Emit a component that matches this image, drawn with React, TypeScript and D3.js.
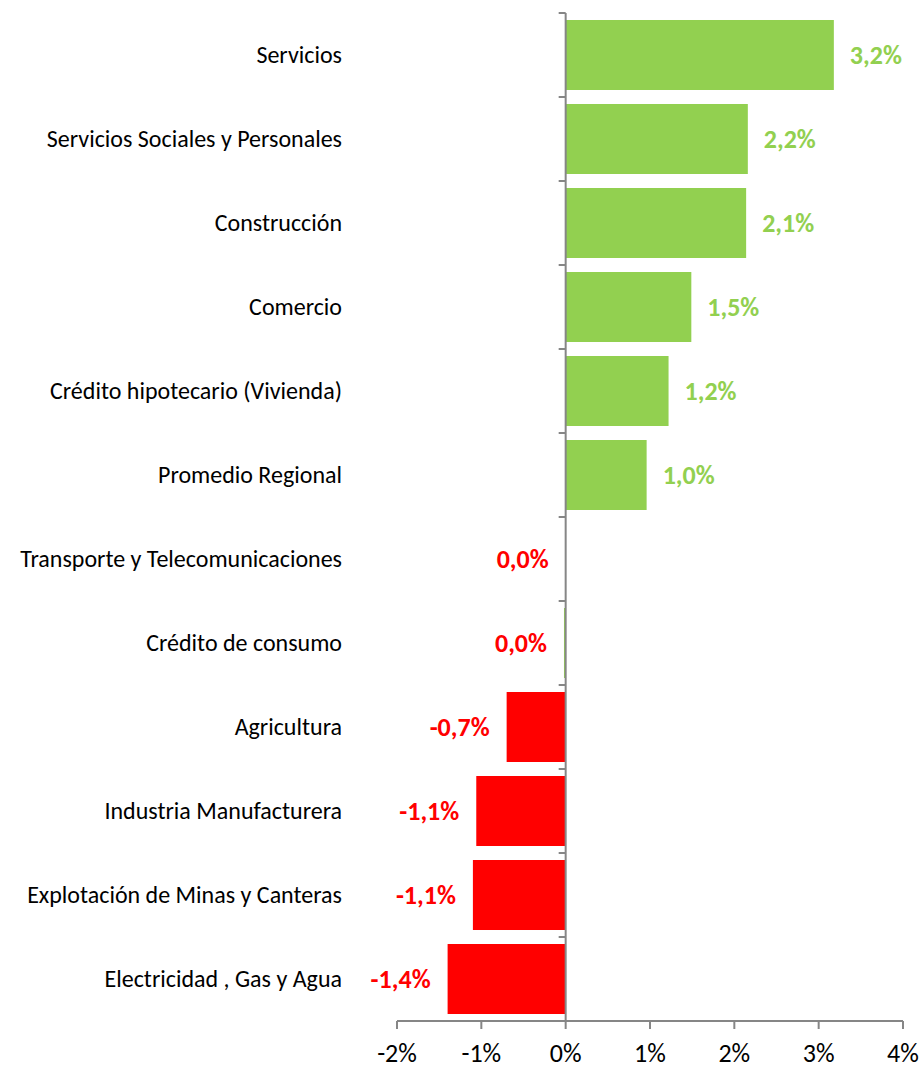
import React from "react";
import * as d3 from "d3";

const categories = [
  "Servicios ",
  "Servicios Sociales y Personales",
  "Construcción",
  "Comercio",
  "Crédito hipotecario (Vivienda)",
  "Promedio Regional",
  "Transporte y Telecomunicaciones",
  "Crédito de consumo",
  "Agricultura",
  "Industria Manufacturera",
  "Explotación de Minas y Canteras",
  "Electricidad , Gas y Agua",
];

const values = [3.18, 2.16, 2.14, 1.49, 1.22, 0.96, 0.0, -0.02, -0.7, -1.06, -1.1, -1.4];

const xTicks = [-2, -1, 0, 1, 2, 3, 4];

const W = 921;
const H = 1065;
const GREEN = "#92D050";
const RED = "#FF0000";
const AXIS = "#868686";
const FONT = "Carlito, 'Open Sans', Lato, sans-serif";

function fmt(v: number) {
  if (Math.abs(v) < 0.05) return "0,0%";
  return v.toFixed(1).replace(".", ",") + "%";
}

export default function App() {
  const x = d3.scaleLinear().domain([-2, 4]).range([397, 903]);
  const y = d3
    .scaleBand<string>()
    .domain(categories)
    .range([13, 1021])
    .paddingInner(0.1667)
    .paddingOuter(0.0833);
  const bandStep = y.step();
  const x0 = x(0);

  return (
    <svg
      width={W}
      height={H}
      style={{ position: "absolute", left: 0, top: 0, display: "block", background: "#fff" }}
      fontFamily={FONT}
    >
      {categories.map((c, i) => {
        const v = values[i];
        const yy = y(c)!;
        const barFill = v > -0.05 ? GREEN : RED;
        const labelFill = v >= 0.05 ? GREEN : RED;
        const xa = x(Math.min(v, 0));
        const xb = x(Math.max(v, 0));
        const cy = yy + y.bandwidth() / 2;
        return (
          <g key={c}>
            {xb - xa > 0 && (
              <rect x={xa} y={yy} width={xb - xa} height={y.bandwidth()} fill={barFill} />
            )}
            <text
              x={v >= 0.05 ? xb + 16 : xa - 17}
              y={cy}
              dy="0.34em"
              textAnchor={v >= 0.05 ? "start" : "end"}
              fontWeight="bold"
              fontSize={26}
              fill={labelFill}
            >
              {fmt(v)}
            </text>
            <text x={342} y={cy} dy="0.34em" textAnchor="end" fontSize={24} fill="#000">
              {c}
            </text>
          </g>
        );
      })}
      {/* vertical axis */}
      <line x1={x0} x2={x0} y1={13} y2={1021} stroke={AXIS} strokeWidth={2} />
      {d3.range(categories.length + 1).map((i) => (
        <line
          key={"yt" + i}
          x1={x0 - 7}
          x2={x0}
          y1={13 + i * bandStep}
          y2={13 + i * bandStep}
          stroke={AXIS}
          strokeWidth={2}
        />
      ))}
      {/* horizontal axis */}
      <line x1={x(-2)} x2={x(4)} y1={1021} y2={1021} stroke={AXIS} strokeWidth={2} />
      {xTicks.map((t) => (
        <g key={"xt" + t}>
          <line x1={x(t)} x2={x(t)} y1={1021} y2={1029} stroke={AXIS} strokeWidth={2} />
          <text x={x(t)} y={1062} textAnchor="middle" fontSize={26} fill="#000">
            {t + "%"}
          </text>
        </g>
      ))}
    </svg>
  );
}
